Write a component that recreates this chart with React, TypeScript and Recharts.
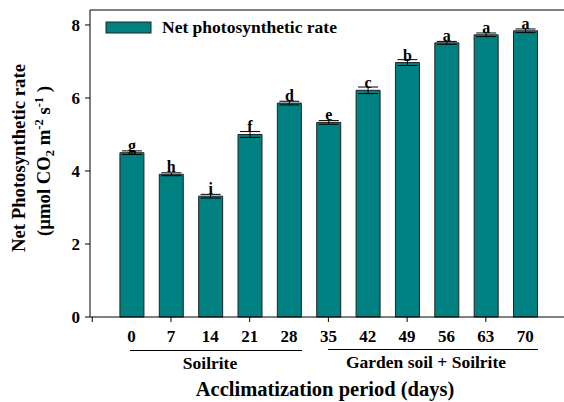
import React from "react";
import {
  BarChart,
  Bar,
  XAxis,
  YAxis,
  ErrorBar,
  LabelList,
  ReferenceLine,
} from "recharts";

// acclimatization days and net photosynthetic rate (µmol CO2 m-2 s-1)
const days = [0, 7, 14, 21, 28, 35, 42, 49, 56, 63, 70];
const rate = [4.5, 3.91, 3.31, 5.0, 5.86, 5.33, 6.21, 6.97, 7.51, 7.73, 7.84];
const err = [0.05, 0.04, 0.05, 0.08, 0.05, 0.05, 0.09, 0.08, 0.04, 0.05, 0.05];
const letters = ["g", "h", "i", "f", "d", "e", "c", "b", "a", "a", "a"];
const xTicks = [-7, 0, 7, 14, 21, 28, 35, 42, 49, 56, 63, 70];
const yTicks = [0, 2, 4, 6, 8];

const data = days.map((d, i) => ({ day: d, rate: rate[i], err: err[i], letter: letters[i] }));

const FONT = "'Liberation Serif', 'Times New Roman', serif";
const TEAL = "#008080";

const XTick = (props: any) => {
  const { x, y, payload } = props;
  const v = payload.value;
  const major = (v + 7) % 14 === 0;
  return (
    <g>
      {major && <line x1={x} x2={x} y1={y - 13} y2={y - 8} stroke="#000" />}
      {v >= 0 && (
        <text x={x} y={y} dy="0.68em" textAnchor="middle" fontFamily={FONT} fontWeight="bold" fontSize={17} fill="#000">
          {v}
        </text>
      )}
    </g>
  );
};

const LetterLabel = (props: any) => {
  const { x, y, width, value } = props;
  return (
    <text x={x + width / 2} y={y - 2} textAnchor="middle" fontFamily={FONT} fontWeight="bold" fontSize={16} fill="#000">
      {value}
    </text>
  );
};

export default function App() {
  return (
    <div style={{ position: "absolute", left: 0, top: 0, width: 564, height: 402, background: "#fff" }}>
      <BarChart width={564} height={402} data={data} margin={{ top: 10, right: 0, bottom: 0, left: 0 }}>
        <XAxis
          dataKey="day"
          type="number"
          domain={[-7.4, 76.9]}
          ticks={xTicks}
          interval={0}
          height={85}
          tickLine={false}
          tickSize={5}
          tickMargin={8}
          tick={<XTick />}
          axisLine={{ stroke: "#000" }}
        />
        <YAxis
          type="number"
          domain={[0, 8.41]}
          ticks={yTicks}
          width={90}
          tickSize={5}
          tickMargin={5}
          axisLine={{ stroke: "#000" }}
          tickLine={{ stroke: "#000" }}
          tick={{ fontFamily: FONT, fontWeight: "bold", fontSize: 17, fill: "#000" }}
        />
        <ReferenceLine y={8.41} stroke="#000" />
        <Bar dataKey="rate" name="Net photosynthetic rate" fill={TEAL} stroke="#222" strokeWidth={1} barSize={24} isAnimationActive={false}>
          <ErrorBar dataKey="err" width={10} stroke="#000" strokeWidth={1} direction="y" />
          <LabelList dataKey="letter" content={<LetterLabel />} />
        </Bar>
      </BarChart>
      <svg width={564} height={402} style={{ position: "absolute", left: 0, top: 0, pointerEvents: "none" }}>
        <g fontFamily={FONT} fontWeight="bold" fill="#000">
          <rect x={106} y={22} width={45} height={11} fill={TEAL} stroke="#222" />
          <text x={162} y={33} fontSize={17.5}>Net photosynthetic rate</text>
          <line x1={130} x2={302} y1={350.5} y2={350.5} stroke="#000" />
          <line x1={328} x2={538} y1={349.5} y2={349.5} stroke="#000" />
          <text x={210} y={369} textAnchor="middle" fontSize={17.5}>Soilrite</text>
          <text x={426} y={368} textAnchor="middle" fontSize={17.5}>Garden soil + Soilrite</text>
          <text x={325} y={396} textAnchor="middle" fontSize={20.5}>Acclimatization period (days)</text>
          <text transform="translate(25,158) rotate(-90)" textAnchor="middle" fontSize={18.7}>Net Photosynthetic rate</text>
          <text transform="translate(50,161) rotate(-90)" textAnchor="middle" fontSize={18.7}>
            (µmol CO<tspan fontSize={12.5} dy={4}>2</tspan>
            <tspan dy={-4}> m</tspan>
            <tspan fontSize={12.5} dy={-7}>-2</tspan>
            <tspan dy={7}> s</tspan>
            <tspan fontSize={12.5} dy={-7}>-1</tspan>
            <tspan dy={7}> )</tspan>
          </text>
        </g>
      </svg>
    </div>
  );
}
